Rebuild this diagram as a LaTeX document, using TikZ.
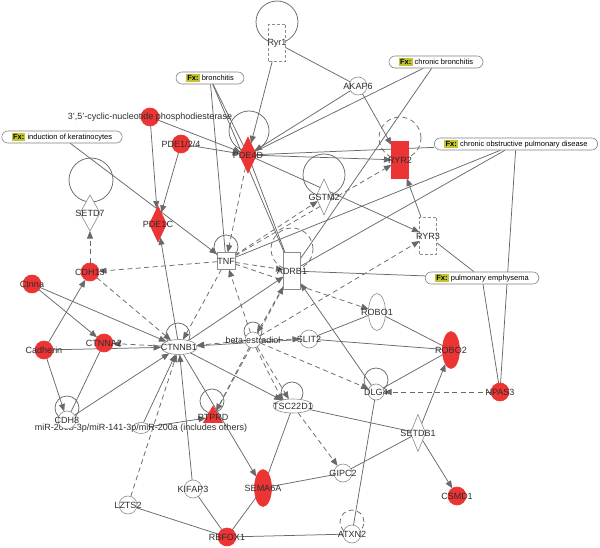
\documentclass[tikz,border=0pt]{standalone}
\usepackage{fontspec}
\setmainfont{Liberation Sans}
\usetikzlibrary{shapes.geometric,arrows.meta}
\definecolor{linec}{RGB}{105,105,105}
\definecolor{nodec}{RGB}{140,140,140}
\definecolor{redc}{RGB}{236,52,52}
\definecolor{fxc}{RGB}{196,196,48}
\definecolor{fxline}{RGB}{130,130,130}
\definecolor{textc}{RGB}{45,45,45}
\newcommand\fxtag{{\setlength{\fboxsep}{1.2pt}\colorbox{fxc}{\textbf{Fx:}}}}
\pgfdeclarelayer{bg}
\pgfsetlayers{bg,main}
\tikzset{
  edge/.style={draw=linec, line width=0.75pt},
  ln/.style={edge},
  arr/.style={edge, -{Triangle[width=6pt,length=7.5pt]}},
  darr/.style={arr, dash pattern=on 5pt off 3.5pt},
  loopc/.style={draw=linec, line width=0.75pt},
  dloopc/.style={loopc, dash pattern=on 5pt off 3.5pt},
  lbl/.style={font=\fontsize{9}{10}\selectfont, text=textc, inner sep=0pt},
  gene/.style={inner sep=0pt, outer sep=0pt, draw=nodec, line width=0.6pt, fill=white},
  redn/.style={fill=redc, draw=redc},
  circ/.style={gene, circle, minimum size=18pt},
  rectn/.style={gene, rectangle, minimum width=17pt, minimum height=37pt},
  dashn/.style={dash pattern=on 3pt off 2pt},
  diam/.style={gene, diamond, shape aspect=0.5, minimum width=17pt, minimum height=36pt},
  tall/.style={gene, ellipse, minimum width=17pt, minimum height=37pt},
  fx/.style={draw=fxline, line width=0.6pt, fill=white, rounded corners=6pt, minimum height=12pt, inner xsep=10pt, inner ysep=0pt, font=\fontsize{7.5}{8}\selectfont, text=black}
}
\begin{document}
\begin{tikzpicture}[x=1pt,y=-1pt]
\useasboundingbox (0,0) rectangle (600,548);
% ---------- nodes ----------
\node[rectn, dashn, label={[lbl]center:Ryr1}] (ryr1) at (277,43) {};
\node[circ, label={[lbl]center:AKAP6}] (akap6) at (358,86) {};
\node[fx] (fxbron) at (210,78) {\fxtag\ bronchitis};
\node[fx] (fxcb) at (436,62) {\fxtag\ chronic bronchitis};
\node[fx] (fxker) at (62,137) {\fxtag\ induction of keratinocytes};
\node[fx] (fxcopd) at (516,144) {\fxtag\ chronic obstructive pulmonary disease};
\node[fx] (fxemph) at (482,278) {\fxtag\ pulmonary emphysema};
\node[circ, redn, label={[lbl]center:3',5'-cyclic-nucleotide phosphodiesterase}] (cnp) at (150,117) {};
\node[circ, redn, label={[lbl]center:PDE1/2/4}] (pde124) at (181,144) {};
\node[diam, redn, label={[lbl]center:PDE4D}] (pde4d) at (248,155) {};
\node[rectn, redn, label={[lbl]center:RYR2}] (ryr2) at (400,160) {};
\node[diam, minimum width=16pt, label={[lbl]center:GSTM2}] (gstm2) at (324,197) {};
\node[rectn, dashn, label={[lbl]center:RYR3}] (ryr3) at (428,236) {};
\node[diam, minimum width=20pt, label={[lbl]center:SETD7}] (setd7) at (90,213) {};
\node[diam, redn, label={[lbl]center:PDE1C}] (pde1c) at (158,224) {};
\node[gene, rectangle, minimum width=18pt, minimum height=17pt, label={[lbl]center:TNF}] (tnf) at (226,261) {};
\node[rectn, label={[lbl]center:ADRB1}] (adrb1) at (292,271) {};
\node[circ, redn, label={[lbl]center:CDH13}] (cdh13) at (90,272) {};
\node[circ, redn, label={[lbl]center:Ctnna}] (ctnna) at (32,284) {};
\node[circ, redn, label={[lbl]center:Cadherin}] (cadherin) at (44,350) {};
\node[circ, redn, label={[lbl]center:CTNNA2}] (ctnna2) at (104,343) {};
\node[gene, ellipse, minimum width=36pt, minimum height=15pt, label={[lbl]center:CTNNB1}] (ctnnb1) at (179,347) {};
\node[circ, minimum size=16pt, label={[lbl]center:beta-estradiol}] (bestr) at (253,340) {};
\node[circ, label={[lbl]center:SLIT2}] (slit2) at (309,339) {};
\node[tall, label={[lbl]center:ROBO1}] (robo1) at (377,312) {};
\node[tall, redn, label={[lbl]center:ROBO2}] (robo2) at (451,350) {};
\node[circ, minimum size=16pt, label={[lbl]center:DLG4}] (dlg4) at (376,392) {};
\node[circ, redn, label={[lbl]center:NPAS3}] (npas3) at (500,392) {};
\node[gene, ellipse, minimum width=40pt, minimum height=14pt, label={[lbl]center:TSC22D1}] (tsc) at (293,406) {};
\node[gene, redn, regular polygon, regular polygon sides=3, minimum size=22pt, label={[lbl]center:PTPRD}] (ptprd) at (213,417) {};
\node[gene, ellipse, minimum width=17pt, minimum height=11pt, label={[lbl]center:miR-200b-3p/miR-141-3p/miR-200a (includes others)}] (mir) at (141,428) {};
\node[circ, label={[lbl]center:CDH8}] (cdh8) at (67,420) {};
\node[tall, redn, label={[lbl]center:SEMA6A}] (sema6a) at (263,488) {};
\node[circ, label={[lbl]center:KIFAP3}] (kifap3) at (193,489) {};
\node[circ, label={[lbl]center:LZTS2}] (lzts2) at (128,505) {};
\node[circ, redn, label={[lbl]center:RBFOX1}] (rbfox1) at (227,537) {};
\node[circ, label={[lbl]center:GIPC2}] (gipc2) at (343,473) {};
\node[diam, minimum width=15pt, minimum height=37pt, label={[lbl]center:SETDB1}] (setdb1) at (418,433) {};
\node[circ, redn, label={[lbl]center:CSMD1}] (csmd1) at (457,496) {};
\node[circ, label={[lbl]center:ATXN2}] (atxn2) at (352,534) {};
% ---------- background: loops and edges ----------
\begin{pgfonlayer}{bg}
\fill[white] (0,0) rectangle (600,548);
% self loops
\draw[loopc] (277,22) circle[radius=21pt];
\draw[loopc] (249,131) circle[radius=20pt];
\draw[dloopc] (400,138) circle[radius=21pt];
\draw[loopc] (324,175) circle[radius=21pt];
\draw[loopc] (91,180) circle[radius=22pt];
\draw[loopc] (226,247) circle[radius=12pt];
\draw[dloopc] (292,249) circle[radius=21pt];
\draw[loopc] (178,335) circle[radius=12pt];
\draw[loopc] (253,331) circle[radius=9pt];
\draw[loopc] (212,401) circle[radius=12pt];
\draw[loopc] (67,408) circle[radius=12pt];
\draw[loopc] (292,393) circle[radius=11pt];
\draw[loopc] (376,380) circle[radius=12pt];
\draw[dloopc] (352,522) circle[radius=12pt];
% edges
\draw[ln] (ryr1) -- (akap6);
\draw[arr] (ryr1) -- (pde4d);
\draw[arr] (akap6) -- (pde4d);
\draw[arr] (akap6) -- (ryr2);
\draw[ln] (fxcb) -- (pde4d);
\draw[ln] (fxcb) -- (adrb1);
\draw[ln] (fxbron) -- (pde4d);
\draw[ln] (fxbron) -- (tnf);
\draw[ln] (fxbron) -- (adrb1);
\draw[arr] (cnp) -- (pde4d);
\draw[arr] (cnp) -- (pde1c);
\draw[arr] (pde124) -- (pde4d);
\draw[arr] (pde124) -- (pde1c);
\draw[arr] (fxker) -- (tnf);
\draw[ln] (pde4d) -- (fxcopd);
\draw[arr] (pde4d) -- (ryr2);
\draw[arr] (pde4d) -- (ryr3);
\draw[darr] (pde4d) -- (tnf);
\draw[ln] (pde4d) -- (adrb1);
\draw[darr] (tnf) -- (gstm2);
\draw[darr] (tnf) -- (ryr2);
\draw[ln] (tnf) -- (fxcopd);
\draw[ln] (adrb1) -- (fxcopd);
\draw[ln] (adrb1) -- (fxemph);
\draw[ln] (ryr3) -- (fxemph);
\draw[ln] (fxcopd) -- (npas3);
\draw[ln] (fxemph) -- (npas3);
\draw[arr] (ryr3) -- (ryr2);
\draw[darr] (tnf) -- (cdh13);
\draw[darr] (cdh13) -- (setd7);
\draw[darr] (cdh13) -- (ctnnb1);
\draw[darr] (tnf) -- (ctnnb1);
\draw[darr] (tnf) -- (adrb1);
\draw[darr] (tnf) -- (robo1);
\draw[arr] (ctnnb1) -- (pde1c);
\draw[arr] (ctnnb1) -- (adrb1);
\draw[arr] (ctnna) -- (ctnna2);
\draw[arr] (ctnna) -- (ctnnb1);
\draw[arr] (cadherin) -- (cdh13);
\draw[arr] (cadherin) -- (ctnnb1);
\draw[darr] (ctnnb1) -- (ctnna2);
\draw[arr] (cadherin) -- (cdh8);
\draw[ln] (ctnna2) -- (cdh8);
\draw[arr] (cdh8) -- (ctnnb1);
\draw[arr] (mir) -- (ctnnb1);
\draw[arr] (mir) -- (ptprd);
\draw[darr] (lzts2) -- (ctnnb1);
\draw[arr] (kifap3) -- (ctnnb1);
\draw[ln] (kifap3) -- (rbfox1);
\draw[ln] (lzts2) -- (rbfox1);
\draw[ln] (rbfox1) -- (sema6a);
\draw[ln] (rbfox1) -- (atxn2);
\draw[arr] (ctnnb1) -- (sema6a);
\draw[arr] (ctnnb1) -- (tsc);
\draw[darr] (bestr) -- (ctnnb1);
\draw[darr] (bestr) -- (slit2);
\draw[arr] (slit2) -- (ctnnb1);
\draw[ln] (slit2) -- (robo1);
\draw[ln] (slit2) -- (robo2);
\draw[ln] (robo1) -- (robo2);
\draw[ln] (dlg4) -- (robo2);
\draw[darr] (npas3) -- (dlg4);
\draw[arr] (setdb1) -- (robo2);
\draw[arr] (setdb1) -- (csmd1);
\draw[ln] (tsc) -- (setdb1);
\draw[ln] (gipc2) -- (setdb1);
\draw[ln] (sema6a) -- (gipc2);
\draw[darr] (tsc) -- (gipc2);
\draw[ln] (tsc) -- (sema6a);
\draw[ln] (dlg4) -- (atxn2);
\draw[darr] (bestr) -- (tsc);
\draw[darr] ([xshift=3pt]bestr.south) -- ([xshift=4pt]tsc.north west);
\draw[darr] (bestr) -- (ptprd);
\draw[darr] (bestr) -- (dlg4);
\draw[darr] (bestr) -- (ryr3);
\draw[darr] (adrb1) -- (bestr);
\draw[darr] (bestr) -- (tnf);
\draw[darr] (ptprd) -- (adrb1);
\draw[arr] (dlg4) -- (adrb1);
\end{pgfonlayer}
\end{tikzpicture}
\end{document}
